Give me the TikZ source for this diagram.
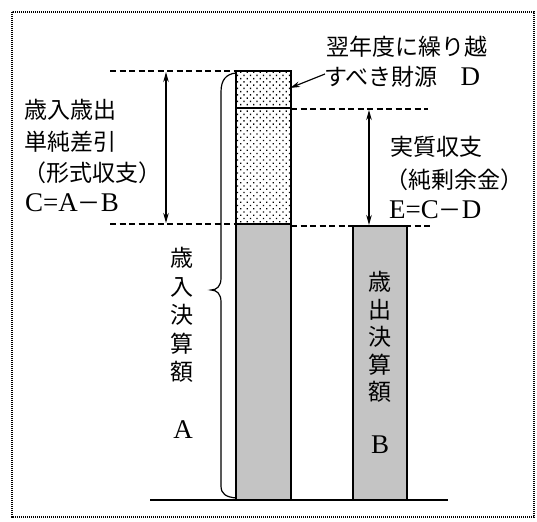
\documentclass[tikz,border=0pt]{standalone}
\usepackage{fontspec}
\setmainfont{Liberation Serif}
\newfontfamily\jp{Noto Sans CJK JP}
\usetikzlibrary{patterns.meta,arrows.meta}
\begin{document}
\begin{tikzpicture}[x=1pt,y=-1pt,
  dashline/.style={line width=1.1pt, dash pattern=on 6pt off 3.5pt},
  dimarrow/.style={line width=1.2pt, {Stealth[length=10pt,width=5.5pt]}-{Stealth[length=10pt,width=5.5pt]}},
  ptr/.style={line width=1.2pt, -{Stealth[length=10pt,width=5.5pt]}},
  jt/.style={font=\jp\fontsize{23}{26}\selectfont, inner sep=0pt},
  vt/.style={align=center, inner sep=0pt},
  lat/.style={font=\fontsize{27}{30}\selectfont, inner sep=0pt},
  barline/.style={line width=1.4pt},
]
\useasboundingbox (0,0) rectangle (537,521);
% frame
\draw[line width=1.4pt, dash pattern=on 1.2pt off 0.8pt] (12,12) rectangle (534,517);

% dashed guide lines
\draw[dashline] (110,71) -- (236,71);
\draw[dashline] (110,224) -- (236,224);
\draw[dashline] (291,109) -- (428,109);
\draw[dashline] (291,226) -- (433,226);

% bar A
\fill[black!23] (236,224) rectangle (291,500);
\fill[white] (236,71) rectangle (291,224);
\fill[pattern={Dots[distance=4.6pt,radius=0.95pt,angle=45]}] (236,71) rectangle (291,224);
\draw[barline] (236,500) -- (236,71) -- (291,71) -- (291,500);
\draw[line width=1.1pt] (236,108) -- (291,108);
\draw[line width=1.1pt] (236,224) -- (291,224);

% bar B
\fill[black!23] (353,226) rectangle (407,500);
\draw[barline] (353,500) -- (353,226) -- (407,226) -- (407,500);

% ground
\draw[barline] (150,500) -- (448,500);

% brace
\draw[line width=1.2pt] (236,73) .. controls (226,74) and (221,80) .. (221,92)
  -- (221,278) .. controls (221,286) and (217,290) .. (211,290)
  .. controls (217,290) and (221,294) .. (221,302)
  -- (221,486) .. controls (221,494) and (226,497) .. (236,498);

% dimension arrows
\coordinate (Ctop) at (166,72);
\coordinate (Cbot) at (166,223);
\draw[dimarrow] (Ctop) -- (Cbot);
\coordinate (Etop) at (369,110);
\coordinate (Ebot) at (369,225);
\draw[dimarrow] (Etop) -- (Ebot);

% left text
\node[jt, anchor=west] (l1) at (24,110) {歳入歳出};
\node[jt, anchor=west] (l2) at (24,142) {単純差引};
\node[jt, anchor=west] (l3) at (23,173) {（形式収支）};
\node[anchor=west, inner sep=0pt] (l4) at (25,203) {\fontsize{27}{30}\selectfont C=A{\jp\fontsize{23}{26}\selectfont －}B};

% top right text
\node[jt, anchor=west] (d1) at (326,47) {翌年度に繰り越};
\node[jt, anchor=west] (d2) at (324,77) {すべき財源　{\rmfamily\fontsize{27}{30}\selectfont D}};
\coordinate (Dpt) at (290,88);
\draw[ptr] ([xshift=1pt,yshift=3pt]d2.west) -- (Dpt);

% right text
\node[jt, anchor=west] (r1) at (390,147) {実質収支};
\node[jt, anchor=west] (r2) at (385,180) {（純剰余金）};
\node[anchor=west, inner sep=0pt] (r3) at (389,210) {\fontsize{27}{30}\selectfont E=C{\jp\fontsize{23}{26}\selectfont －}D};

% vertical labels
\node[vt, font=\jp\fontsize{23}{28.5}\selectfont] (va) at (182,315) {歳\\入\\決\\算\\額};
\node[lat] (la) at (183,430) {A};
\node[vt, font=\jp\fontsize{23}{27.5}\selectfont] (vb) at (380,337) {歳\\出\\決\\算\\額};
\node[lat] (lb) at (380,445) {B};
\end{tikzpicture}
\end{document}
